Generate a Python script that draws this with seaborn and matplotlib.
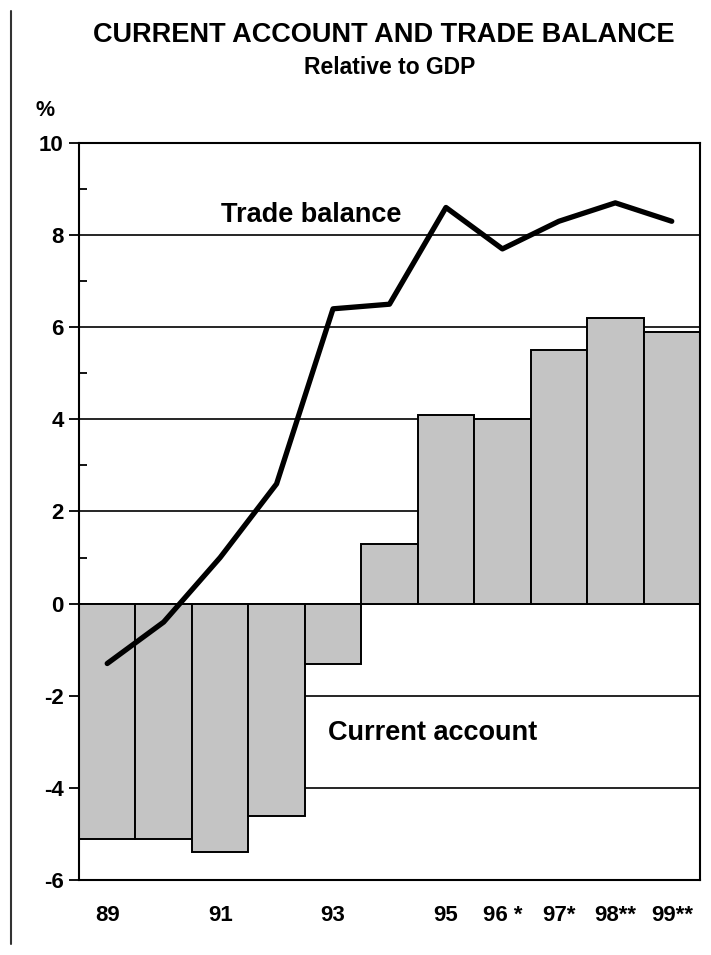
import matplotlib
matplotlib.use("Agg")
import matplotlib.pyplot as plt
from matplotlib.lines import Line2D
import seaborn as sns
import pandas as pd

# values (% of GDP)
years = [1989, 1990, 1991, 1992, 1993, 1994, 1995, 1996, 1997, 1998, 1999]
current_account = [-5.1, -5.1, -5.4, -4.6, -1.3, 1.3, 4.1, 4.0, 5.5, 6.2, 5.9]
trade_balance = [-1.3, -0.4, 1.0, 2.6, 6.4, 6.5, 8.6, 7.7, 8.3, 8.7, 8.3]
tick_labels = ["89", "", "91", "", "93", "", "95", "96 *", "97*", "98**", "99**"]

df = pd.DataFrame({"year": years, "current": current_account, "trade": trade_balance})

sns.set_theme(style="white")
plt.rcParams["font.family"] = ["Liberation Sans", "DejaVu Sans"]
plt.rcParams["font.weight"] = "bold"
plt.rcParams["text.color"] = "black"
plt.rcParams["xtick.color"] = "black"
plt.rcParams["ytick.color"] = "black"
plt.rcParams["axes.unicode_minus"] = False

fig = plt.figure(figsize=(7.11, 9.55), dpi=100)
ax = fig.add_axes([0.1111, 0.0785, 0.8734, 0.7718])

sns.barplot(data=df, x="year", y="current", native_scale=True, width=1.0,
            color="#c4c4c4", saturation=1, edgecolor="black", linewidth=1.4,
            ax=ax, zorder=2)
sns.lineplot(data=df, x="year", y="trade", color="black", linewidth=3.8,
             ax=ax, zorder=3)

ax.set_xlim(1988.5, 1999.5)
ax.set_ylim(-6, 10)
ax.set_yticks(range(-6, 11, 2))
ax.set_yticks(range(-5, 10, 2), minor=True)
ax.set_xticks(years)
ax.set_xticklabels(tick_labels)
ax.set_xlabel("")
ax.set_ylabel("")

ax.set_axisbelow(True)
ax.yaxis.grid(True, which="major", color="black", linewidth=1.2)
ax.xaxis.grid(False)

for s in ax.spines.values():
    s.set_color("black")
    s.set_linewidth(1.5)

ax.tick_params(axis="y", which="major", direction="out", length=7, width=1.3,
               color="black", labelsize=16, pad=4, left=True)
ax.tick_params(axis="y", which="minor", direction="in", length=6, width=1.3,
               color="black", left=True)
ax.tick_params(axis="x", length=0, labelsize=16, pad=18)
for lab in ax.get_xticklabels() + ax.get_yticklabels():
    lab.set_fontweight("bold")

ax.text(1992.61, 8.28, "Trade balance", ha="center", va="baseline",
        fontsize=19.5, fontweight="bold")
ax.text(1994.77, -2.96, "Current account", ha="center", va="baseline",
        fontsize=19.5, fontweight="bold")

fig.text(0.54, 0.956, "CURRENT ACCOUNT AND TRADE BALANCE", ha="center",
         va="baseline", fontsize=19.5, fontweight="bold")
fig.text(0.548, 0.9225, "Relative to GDP", ha="center", va="baseline",
         fontsize=16.5, fontweight="bold")
fig.text(0.064, 0.8785, "%", ha="center", va="baseline", fontsize=15.5,
         fontweight="bold")

fig.add_artist(Line2D([0.016, 0.016], [0.012, 0.988], transform=fig.transFigure,
                      color="#333333", linewidth=1.5))

fig.savefig("out.png", dpi=100)
